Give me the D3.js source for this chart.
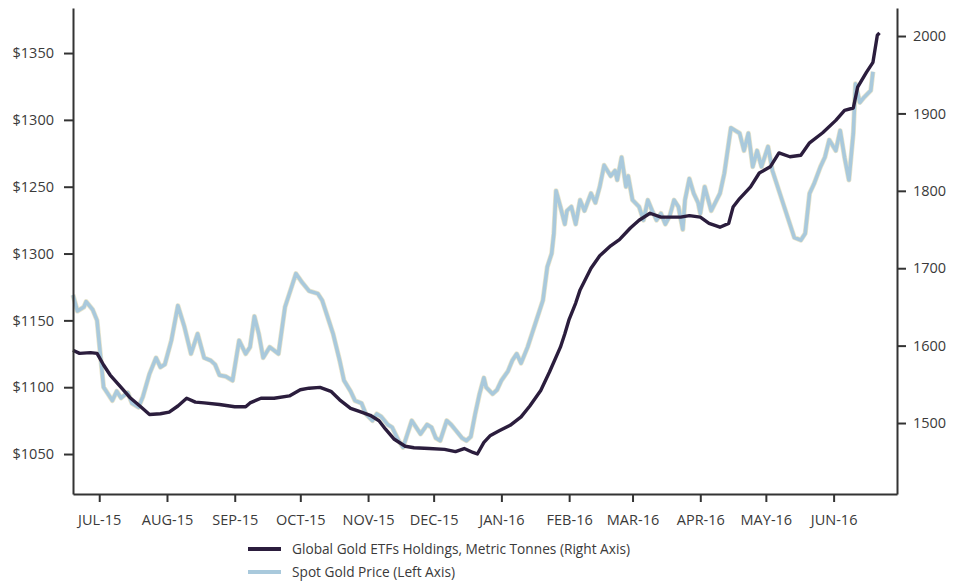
<!DOCTYPE html>
<html><head><meta charset="utf-8">
<script src="https://cdn.jsdelivr.net/npm/d3@7"></script>
<style>body{margin:0;background:#fff}svg{display:block}text{font-family:"Open Sans",sans-serif;fill:#3a3a3a}</style>
</head><body><svg id="c" width="964" height="581"></svg>
<script>
const goldDates = ["2015-06-19","2015-06-21","2015-06-24","2015-06-25","2015-06-28","2015-06-30","2015-07-01","2015-07-03","2015-07-05","2015-07-07","2015-07-09","2015-07-11","2015-07-14","2015-07-16","2015-07-19","2015-07-21","2015-07-24","2015-07-27","2015-07-29","2015-07-31","2015-08-03","2015-08-06","2015-08-09","2015-08-12","2015-08-15","2015-08-18","2015-08-21","2015-08-23","2015-08-25","2015-08-28","2015-08-31","2015-09-02","2015-09-03","2015-09-06","2015-09-08","2015-09-10","2015-09-12","2015-09-14","2015-09-17","2015-09-21","2015-09-24","2015-09-27","2015-09-29","2015-10-02","2015-10-05","2015-10-09","2015-10-11","2015-10-14","2015-10-16","2015-10-19","2015-10-21","2015-10-24","2015-10-26","2015-10-29","2015-10-31","2015-11-03","2015-11-05","2015-11-07","2015-11-10","2015-11-12","2015-11-15","2015-11-17","2015-11-19","2015-11-21","2015-11-23","2015-11-25","2015-11-28","2015-11-30","2015-12-02","2015-12-04","2015-12-07","2015-12-09","2015-12-11","2015-12-14","2015-12-16","2015-12-18","2015-12-20","2015-12-22","2015-12-24","2015-12-25","2015-12-28","2015-12-30","2016-01-01","2016-01-04","2016-01-06","2016-01-08","2016-01-10","2016-01-13","2016-01-15","2016-01-17","2016-01-20","2016-01-22","2016-01-24","2016-01-25","2016-01-26","2016-01-28","2016-01-30","2016-01-31","2016-02-02","2016-02-04","2016-02-06","2016-02-08","2016-02-11","2016-02-13","2016-02-15","2016-02-17","2016-02-20","2016-02-22","2016-02-23","2016-02-25","2016-02-27","2016-02-28","2016-03-01","2016-03-04","2016-03-06","2016-03-08","2016-03-10","2016-03-12","2016-03-14","2016-03-16","2016-03-18","2016-03-20","2016-03-22","2016-03-24","2016-03-25","2016-03-27","2016-03-29","2016-03-31","2016-04-01","2016-04-03","2016-04-06","2016-04-10","2016-04-12","2016-04-15","2016-04-17","2016-04-19","2016-04-21","2016-04-23","2016-04-25","2016-04-27","2016-04-29","2016-05-02","2016-05-04","2016-05-07","2016-05-11","2016-05-14","2016-05-17","2016-05-19","2016-05-21","2016-05-23","2016-05-26","2016-05-28","2016-05-30","2016-06-02","2016-06-04","2016-06-06","2016-06-08","2016-06-10","2016-06-11","2016-06-13","2016-06-15","2016-06-18","2016-06-19"];
const goldPrice = [1169,1157,1160,1164,1158,1150,1133,1100,1095,1090,1097,1092,1096,1088,1085,1093,1110,1122,1115,1117,1135,1161,1145,1125,1140,1122,1120,1117,1109,1108,1105,1125,1135,1125,1130,1153,1140,1122,1130,1125,1160,1175,1185,1178,1172,1170,1165,1150,1140,1120,1105,1097,1090,1088,1080,1075,1080,1078,1072,1070,1060,1055,1065,1075,1070,1065,1072,1070,1062,1060,1075,1072,1068,1062,1060,1063,1080,1095,1107,1100,1095,1098,1105,1112,1120,1125,1118,1130,1140,1150,1165,1190,1200,1215,1247,1235,1222,1232,1235,1222,1240,1232,1245,1238,1250,1266,1258,1262,1255,1272,1250,1258,1240,1235,1225,1240,1232,1225,1230,1222,1228,1240,1235,1218,1240,1256,1245,1238,1230,1250,1232,1245,1260,1294,1292,1290,1277,1290,1265,1277,1265,1280,1262,1247,1227,1212,1210,1215,1245,1252,1265,1272,1285,1277,1292,1272,1255,1290,1327,1313,1317,1322,1336];

const etfDates = ["2015-06-19","2015-06-22","2015-06-27","2015-06-30","2015-07-03","2015-07-06","2015-07-11","2015-07-15","2015-07-20","2015-07-24","2015-07-29","2015-08-02","2015-08-06","2015-08-10","2015-08-14","2015-08-18","2015-08-25","2015-09-01","2015-09-06","2015-09-08","2015-09-13","2015-09-19","2015-09-26","2015-10-01","2015-10-05","2015-10-10","2015-10-15","2015-10-19","2015-10-24","2015-10-28","2015-11-02","2015-11-06","2015-11-09","2015-11-13","2015-11-18","2015-11-22","2015-11-29","2015-12-06","2015-12-11","2015-12-15","2015-12-19","2015-12-21","2015-12-24","2015-12-27","2015-12-31","2016-01-05","2016-01-10","2016-01-14","2016-01-19","2016-01-23","2016-01-28","2016-01-30","2016-02-01","2016-02-04","2016-02-06","2016-02-11","2016-02-15","2016-02-20","2016-02-24","2016-02-29","2016-03-04","2016-03-09","2016-03-14","2016-03-18","2016-03-23","2016-03-27","2016-04-01","2016-04-05","2016-04-10","2016-04-14","2016-04-16","2016-04-19","2016-04-24","2016-04-28","2016-05-03","2016-05-07","2016-05-12","2016-05-17","2016-05-21","2016-05-27","2016-06-02","2016-06-06","2016-06-10","2016-06-12","2016-06-16","2016-06-19","2016-06-21","2016-06-22"];
const etfTonnes = [1594,1590,1591,1590,1575,1562,1546,1533,1521,1511,1512,1514,1522,1532,1527,1526,1524,1521,1521,1526,1532,1532,1535,1543,1545,1546,1541,1530,1519,1515,1510,1503,1492,1479,1470,1468,1467,1466,1463,1467,1462,1460,1475,1484,1490,1497,1508,1522,1542,1566,1598,1615,1634,1655,1672,1700,1716,1729,1737,1752,1762,1771,1766,1766,1766,1768,1766,1758,1753,1758,1779,1790,1805,1823,1831,1849,1844,1846,1862,1875,1891,1904,1907,1934,1953,1966,2001,2004];

const leftTicks = [1050,1100,1150,1200,1250,1300,1350];
const leftTickLabels = ["$1050","$1100","$1150","$1300","$1250","$1300","$1350"];
const rightTicks = [1500,1600,1700,1800,1900,2000];
const monthTicks = ["2015-07-01","2015-08-01","2015-09-01","2015-10-01","2015-11-01","2015-12-01","2016-01-01","2016-02-01","2016-03-01","2016-04-01","2016-05-01","2016-06-01"];
const monthLabels = ["JUL-15","AUG-15","SEP-15","OCT-15","NOV-15","DEC-15","JAN-16","FEB-16","MAR-16","APR-16","MAY-16","JUN-16"];
const legendLabels = ["Global Gold ETFs Holdings, Metric Tonnes (Right Axis)","Spot Gold Price (Left Axis)"];

const parse = d3.utcParse("%Y-%m-%d");
const svg = d3.select("#c");
const L = 73, R = 897, T = 8, B = 494;

const x = d3.scaleUtc().domain([parse("2015-06-19"), parse("2016-06-30")]).range([L, R]);
const yL = d3.scaleLinear().domain([1020.1, 1383.7]).range([B, T]);
const yR = d3.scaleLinear().domain([1408.3, 2036.2]).range([B, T]);

const gold = goldDates.map((d,i)=>({d:parse(d), v:goldPrice[i]}));
const etf = etfDates.map((d,i)=>({d:parse(d), v:etfTonnes[i]}));

const goldColor = "#a9c9dc", etfColor = "#2b1d3d";

// lines
svg.append("path").datum(gold)
  .attr("fill","none").attr("stroke","#d9d2a8").attr("stroke-width",5).attr("stroke-linejoin","round").attr("opacity",0.6)
  .attr("d", d3.line().x(d=>x(d.d)).y(d=>yL(d.v)));
svg.append("path").datum(gold)
  .attr("fill","none").attr("stroke",goldColor).attr("stroke-width",3.6).attr("stroke-linejoin","round")
  .attr("d", d3.line().x(d=>x(d.d)).y(d=>yL(d.v)));
svg.append("path").datum(etf)
  .attr("fill","none").attr("stroke",etfColor).attr("stroke-width",3.4).attr("stroke-linejoin","round")
  .attr("d", d3.line().x(d=>x(d.d)).y(d=>yR(d.v)));

// axes
function styleAxis(g){
  g.selectAll(".domain").attr("stroke","#333").attr("stroke-width",2);
  g.selectAll(".tick line").attr("stroke","#333").attr("stroke-width",2);
  g.selectAll(".tick text").attr("fill","#3a3a3a").style("font-family",'"Open Sans",sans-serif').style("font-size","14px");
}
const axL = d3.axisLeft(yL).tickValues(leftTicks).tickFormat((d,i)=>leftTickLabels[i]).tickSize(9).tickSizeOuter(0).tickPadding(10);
svg.append("g").attr("transform",`translate(${L},0)`).call(axL).call(styleAxis);
const axR = d3.axisRight(yR).tickValues(rightTicks).tickFormat(d3.format("d")).tickSize(9).tickSizeOuter(0).tickPadding(7);
svg.append("g").attr("transform",`translate(${R},0)`).call(axR).call(styleAxis);
const axB = d3.axisBottom(x).tickValues(monthTicks.map(parse)).tickFormat((d,i)=>monthLabels[i]).tickSize(8).tickSizeOuter(0).tickPadding(13);
svg.append("g").attr("transform",`translate(0,${B})`).call(axB).call(styleAxis);
svg.selectAll("g .tick text").style("font-size","14.5px");

// legend
const lg = svg.append("g");
const legendColors = [etfColor, goldColor];
legendLabels.forEach((t,i)=>{
  const yy = 549 + i*23;
  lg.append("line").attr("x1",248).attr("x2",281).attr("y1",yy).attr("y2",yy)
    .attr("stroke",legendColors[i]).attr("stroke-width",4);
  lg.append("text").attr("x",292).attr("y",yy).attr("dy","0.35em").style("font-size","13.7px").text(t);
});
</script></body></html>
